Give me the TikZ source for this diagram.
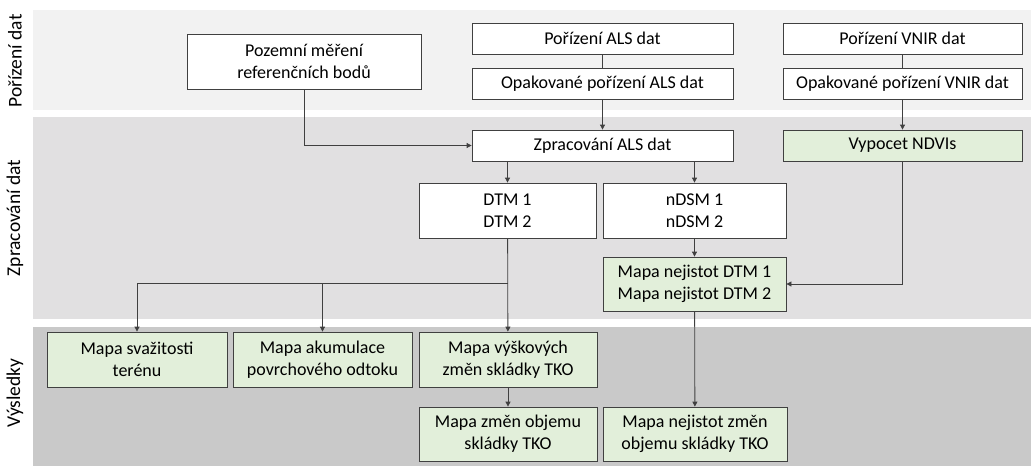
\documentclass[tikz,border=0pt]{standalone}
\usepackage{fontspec}
\setmainfont{Carlito}
\usetikzlibrary{arrows.meta}
\definecolor{bandtop}{HTML}{F2F2F2}
\definecolor{bandmid}{HTML}{E1E0E1}
\definecolor{bandbot}{HTML}{C9C9C9}
\definecolor{resgreen}{HTML}{E2EFDA}
\definecolor{edge}{HTML}{404040}
\begin{document}
\begin{tikzpicture}[x=1pt,y=-1pt,
    font=\fontsize{18}{22}\selectfont,
    box/.style={draw=edge,line width=0.8pt,fill=white,inner sep=0pt,align=center},
    res/.style={box,fill=resgreen},
    band/.style={rotate=90,font=\fontsize{19.5}{22}\selectfont},
    arr/.style={draw=edge,line width=0.8pt,-{Triangle[length=5pt,width=5pt]}},
    lnk/.style={draw=edge,line width=0.8pt}]
  \useasboundingbox (0,0) rectangle (1031,466);
  % bands
  \fill[bandtop] (33,10) rectangle (1031,110);
  \fill[bandmid] (33,117) rectangle (1031,319);
  \fill[bandbot] (33,327) rectangle (1031,466);
  \node[band] (lblpor) at (15,61) {Pořízení dat};
  \node[band] (lblzpr) at (15,218) {Zpracování dat};
  \node[band] (lblvys) at (15,393) {Výsledky};
  % acquisition
  \node[box,minimum width=234,minimum height=55] (poz) at (304,61.5) {Pozemní měření\\referenčních bodů};
  \node[box,minimum width=261,minimum height=31] (als1) at (602.5,38.5) {Pořízení ALS dat};
  \node[box,minimum width=261,minimum height=31] (als2) at (602.5,83.5) {Opakované pořízení ALS dat};
  \node[box,minimum width=239,minimum height=31] (vnir1) at (902.5,38.5) {Pořízení VNIR dat};
  \node[box,minimum width=239,minimum height=31] (vnir2) at (902.5,83.5) {Opakované pořízení VNIR dat};
  % processing
  \node[box,minimum width=261,minimum height=31] (zprac) at (602.5,145.5) {Zpracování ALS dat};
  \node[res,minimum width=239,minimum height=31] (ndvi) at (902.5,145.5) {Vypocet NDVIs};
  \node[box,minimum width=177,minimum height=55] (dtm) at (507.5,210.5) {DTM 1\\DTM 2};
  \node[box,minimum width=183,minimum height=55] (ndsm) at (694.5,210.5) {nDSM 1\\nDSM 2};
  \node[res,minimum width=183,minimum height=54,align=left] (nej) at (694.5,284) {Mapa nejistot DTM 1\\Mapa nejistot DTM 2};
  % results
  \node[res,minimum width=180,minimum height=55] (svaz) at (137,359.5) {Mapa svažitosti\\terénu};
  \node[res,minimum width=179,minimum height=55] (akum) at (322.5,359.5) {Mapa akumulace\\povrchového odtoku};
  \node[res,minimum width=178,minimum height=55] (vysk) at (508,359.5) {Mapa výškových\\změn skládky TKO};
  \node[res,minimum width=178,minimum height=54] (obj) at (508,434) {Mapa změn objemu\\skládky TKO};
  \node[res,minimum width=184,minimum height=54] (nejzm) at (695,434) {Mapa nejistot změn\\objemu skládky TKO};
  \coordinate (split) at (507.5,283);
  % connectors
  \draw[arr] (poz.south) |- (zprac.west);
  \draw[lnk] (als1) -- (als2);
  \draw[arr] (als2) -- (zprac);
  \draw[lnk] (vnir1) -- (vnir2);
  \draw[arr] (vnir2) -- (ndvi);
  \draw[arr] (zprac.south -| dtm.south) -- (dtm);
  \draw[arr] (zprac.south -| ndsm.south) -- (ndsm);
  \draw[arr] (dtm) -- (vysk);
  \draw[arr] (split) -| (svaz);
  \draw[arr] (split) -| (akum);
  \draw[arr] (ndsm) -- (nej);
  \draw[arr] (ndvi.south) |- (nej.east);
  \draw[arr] (nej) -- (nejzm);
  \draw[arr] (vysk) -- (obj);
\end{tikzpicture}
\end{document}
